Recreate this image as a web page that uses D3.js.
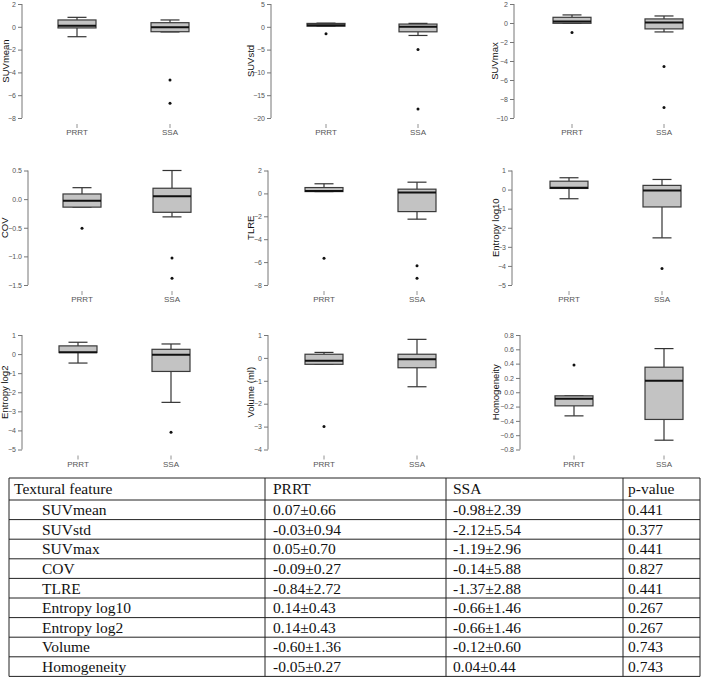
<!DOCTYPE html>
<html><head><meta charset="utf-8">
<script src="https://cdn.jsdelivr.net/npm/d3@7"></script>
<style>
body{margin:0;background:#fff;}
svg{display:block;}
</style></head>
<body>
<svg id="chart" width="709" height="677"></svg>
<script>
// ---------- data ----------
const groups = ["PRRT", "SSA"];
const features = ["SUVmean","SUVstd","SUVmax","COV","TLRE","Entropy log10","Entropy log2","Volume (ml)","Homogeneity"];
const yDomains = [[-8,2],[-20,5],[-10,2],[-1.5,0.5],[-8,2],[-5,1],[-5,1],[-4,1],[-0.8,0.8]];
const yTickSteps = [2,5,2,0.5,2,1,1,1,0.2];
const yTickDecimals = [0,0,0,1,0,0,0,0,1];
// five-number summaries: [lower whisker, Q1, median, Q3, upper whisker]
const prrtStats = [
  [-0.87,-0.10,0.10,0.60,0.83],
  [0.14,0.14,0.35,0.74,0.80],
  [-0.03,-0.03,0.15,0.60,0.85],
  [-0.14,-0.14,-0.03,0.09,0.20],
  [0.16,0.16,0.22,0.51,0.84],
  [-0.48,0.06,0.10,0.44,0.62],
  [-0.47,0.08,0.10,0.43,0.62],
  [-0.28,-0.28,-0.12,0.16,0.24],
  [-0.33,-0.19,-0.09,-0.05,-0.05]
];
const ssaStats = [
  [-0.45,-0.43,-0.05,0.36,0.60],
  [-1.90,-1.10,0.00,0.60,0.75],
  [-0.94,-0.62,0.04,0.43,0.74],
  [-0.31,-0.23,0.05,0.19,0.50],
  [-2.25,-1.59,0.08,0.37,0.98],
  [-2.53,-0.91,-0.05,0.22,0.53],
  [-2.53,-0.91,-0.04,0.25,0.53],
  [-1.26,-0.43,-0.06,0.16,0.81],
  [-0.67,-0.38,0.16,0.35,0.61]
];
const prrtOutliers = [[],[-1.5],[-1.0],[-0.51],[-5.66],[],[],[-3.0],[0.38]];
const ssaOutliers = [[-4.67,-6.7],[-5,-18],[-4.57,-8.9],[-1.03,-1.38],[-6.31,-7.41],[-4.13],[-4.09],[],[]];

const tableHeader = ["Textural feature","PRRT","SSA","p-value"];
const tableFeatures = ["SUVmean","SUVstd","SUVmax","COV","TLRE","Entropy log10","Entropy log2","Volume","Homogeneity"];
const tablePRRT = ["0.07±0.66","-0.03±0.94","0.05±0.70","-0.09±0.27","-0.84±2.72","0.14±0.43","0.14±0.43","-0.60±1.36","-0.05±0.27"];
const tableSSA = ["-0.98±2.39","-2.12±5.54","-1.19±2.96","-0.14±5.88","-1.37±2.88","-0.66±1.46","-0.66±1.46","-0.12±0.60","0.04±0.44"];
const tablePvalue = ["0.441","0.377","0.441","0.827","0.441","0.267","0.267","0.743","0.743"];

// ---------- layout ----------
const axisX = [22,271,514,28,268,512,22,268,520];
const titleOffset = [16,20,19,23,17,16,17,17,24];
const groupX = [[77,170],[326,418],[572,664],[82,172],[324,417],[569,662],[78,171],[324,417],[574,664]];
const rowY = [[4,118],[170.5,285],[335,449.5]];

const svg = d3.select("#chart");
const boxW = 38, capW = 19;

features.forEach((feat, i) => {
  const r = Math.floor(i/3);
  const [top, bottom] = rowY[r];
  const y = d3.scaleLinear().domain(yDomains[i]).range([bottom, top]);
  const x = d3.scaleOrdinal().domain(groups).range(groupX[i]);
  const g = svg.append("g");
  const ax = axisX[i];
  const step = yTickSteps[i];
  const ticks = d3.range(yDomains[i][0], yDomains[i][1] + step/2, step);
  const axis = d3.axisLeft(y).tickValues(ticks).tickSize(4).tickPadding(2)
    .tickFormat(d => d3.format("." + yTickDecimals[i] + "f")(Math.abs(d) < 1e-9 ? 0 : d));
  const ag = g.append("g").attr("transform", `translate(${ax},0)`).call(axis);
  ag.select(".domain").attr("stroke","#777").attr("d", `M0,${top}V${bottom}`);
  ag.selectAll(".tick line").attr("stroke","#777");
  ag.selectAll(".tick text").attr("fill","#555").style("font-family","Arial, 'Liberation Sans', sans-serif").style("font-size","7px");

  // title
  g.append("text")
    .attr("transform", `translate(${ax - titleOffset[i]},${(top+bottom)/2}) rotate(-90)`)
    .attr("text-anchor","middle")
    .attr("dy","0.35em")
    .style("font-family","Arial, 'Liberation Sans', sans-serif")
    .style("font-size","9.5px")
    .attr("fill","#111")
    .text(feat);

  // x labels
  groups.forEach(gr => {
    g.append("line").attr("x1",x(gr)).attr("x2",x(gr)).attr("y1",bottom+6).attr("y2",bottom+10)
      .attr("stroke","#777").attr("stroke-width",0.8);
    g.append("text").attr("x",x(gr)).attr("y",bottom+17).attr("text-anchor","middle")
      .style("font-family","Arial, 'Liberation Sans', sans-serif").style("font-size","8px")
      .attr("fill","#555").text(gr);
  });

  const stats = {PRRT: prrtStats[i], SSA: ssaStats[i]};
  const outs = {PRRT: prrtOutliers[i], SSA: ssaOutliers[i]};
  groups.forEach(gr => {
    const [lo,q1,med,q3,hi] = stats[gr];
    const cx = x(gr);
    const bg = g.append("g");
    bg.append("line").attr("x1",cx).attr("x2",cx).attr("y1",y(hi)).attr("y2",y(q3)).attr("stroke","#333").attr("stroke-width",1.2);
    bg.append("line").attr("x1",cx).attr("x2",cx).attr("y1",y(q1)).attr("y2",y(lo)).attr("stroke","#333").attr("stroke-width",1.2);
    bg.append("line").attr("x1",cx-capW/2).attr("x2",cx+capW/2).attr("y1",y(hi)).attr("y2",y(hi)).attr("stroke","#333").attr("stroke-width",1.2);
    bg.append("line").attr("x1",cx-capW/2).attr("x2",cx+capW/2).attr("y1",y(lo)).attr("y2",y(lo)).attr("stroke","#333").attr("stroke-width",1.2);
    bg.append("rect").attr("x",cx-boxW/2).attr("width",boxW)
      .attr("y",y(q3)).attr("height",Math.max(0.5,y(q1)-y(q3)))
      .attr("fill","#c3c3c3").attr("stroke","#3a3a3a").attr("stroke-width",1.2);
    bg.append("line").attr("x1",cx-boxW/2).attr("x2",cx+boxW/2).attr("y1",y(med)).attr("y2",y(med))
      .attr("stroke","#111").attr("stroke-width",2);
    bg.selectAll("circle").data(outs[gr]).enter().append("circle")
      .attr("cx",cx).attr("cy",d=>y(d)).attr("r",1.5).attr("fill","#111");
  });
});

// ---------- table ----------
const colX = [9,265,446,623,700];
const tTop = 478, headH = 22, rowH = 19.6;
const nRows = tableFeatures.length;
const tBottom = tTop + headH + rowH*nRows;
const tg = svg.append("g").style("font-family","'Liberation Serif','Times New Roman',serif").style("font-size","15.5px");
const rowYs = [tTop, tTop+headH].concat(d3.range(1,nRows+1).map(k => tTop+headH+rowH*k));
rowYs.forEach(yy => tg.append("line").attr("x1",colX[0]).attr("x2",colX[4]).attr("y1",yy).attr("y2",yy).attr("stroke","#222").attr("stroke-width",1));
colX.forEach(xx => tg.append("line").attr("x1",xx).attr("x2",xx).attr("y1",tTop).attr("y2",tBottom).attr("stroke","#222").attr("stroke-width",1));
const padX = [5,8,7,5];
tableHeader.forEach((h,c) => tg.append("text").attr("x",colX[c]+padX[c]).attr("y",tTop+headH/2).attr("dy","0.35em").attr("fill","#111").text(h));
tableFeatures.forEach((f,k) => {
  const cy = tTop+headH+rowH*k+rowH/2;
  const vals = [f, tablePRRT[k], tableSSA[k], tablePvalue[k]];
  vals.forEach((v,c) => tg.append("text").attr("x",colX[c]+(c===0?33:padX[c])).attr("y",cy).attr("dy","0.35em").attr("fill","#111").text(v));
});
</script>
</body></html>
